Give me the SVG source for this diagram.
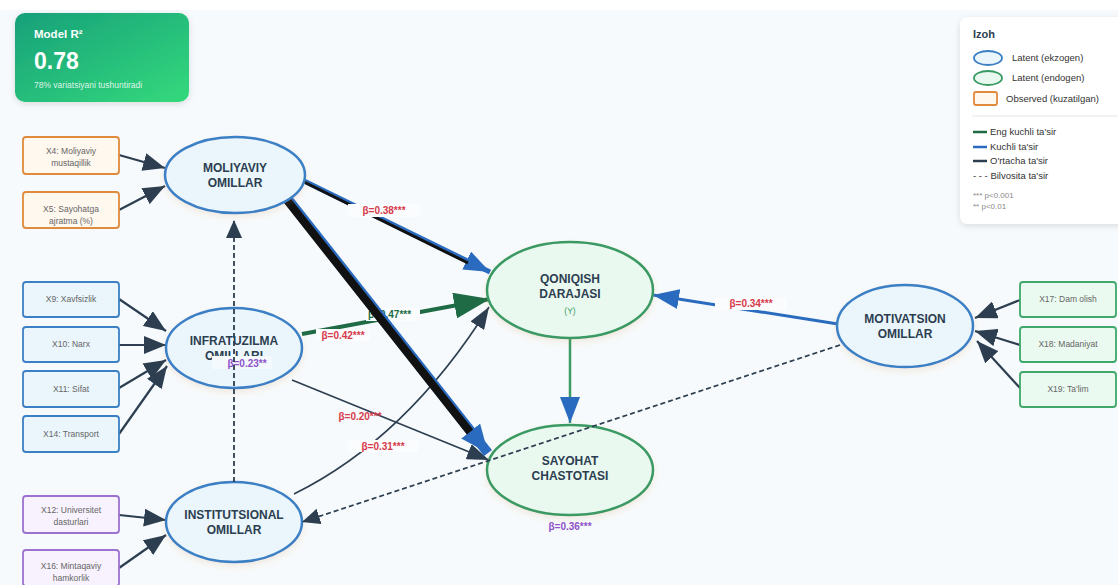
<svg xmlns="http://www.w3.org/2000/svg" width="1118" height="585" viewBox="0 0 1118 585">
<defs>
<linearGradient id="gR" x1="0" y1="0" x2="1" y2="1">
<stop offset="0" stop-color="#17a07a"/><stop offset="1" stop-color="#34d97b"/>
</linearGradient>
<filter id="sh" x="-20%" y="-20%" width="140%" height="140%"><feDropShadow dx="0" dy="2" stdDeviation="3" flood-color="#000" flood-opacity="0.12"/></filter>
<filter id="shn" x="-20%" y="-20%" width="140%" height="150%"><feDropShadow dx="0" dy="3" stdDeviation="3" flood-color="#c98a3c" flood-opacity="0.15"/></filter>
<marker id="aDark" markerUnits="userSpaceOnUse" markerWidth="22" markerHeight="18" refX="22" refY="9" orient="auto"><path d="M0,0 L22,9 L0,18 z" fill="#2c3e50"/></marker>
<marker id="aDark2" markerUnits="userSpaceOnUse" markerWidth="22" markerHeight="16" refX="22" refY="8" orient="auto"><path d="M0,0 L22,8 L0,16 z" fill="#2c3e50"/></marker>
<marker id="aBlue" markerUnits="userSpaceOnUse" markerWidth="26" markerHeight="20" refX="26" refY="10" orient="auto"><path d="M0,0 L26,10 L0,20 z" fill="#2a6bbf"/></marker>
<marker id="aBlueBig" markerUnits="userSpaceOnUse" markerWidth="28" markerHeight="24" refX="28" refY="12" orient="auto"><path d="M0,0 L28,12 L0,24 z" fill="#2a6bbf"/></marker>
<marker id="aGreen" markerUnits="userSpaceOnUse" markerWidth="36" markerHeight="26" refX="36" refY="13" orient="auto"><path d="M0,0 L36,13 L0,26 z" fill="#1e6b45"/></marker>
<marker id="aDash" markerUnits="userSpaceOnUse" markerWidth="18" markerHeight="16" refX="18" refY="8" orient="auto"><path d="M0,0 L18,8 L0,16 z" fill="#2c3e50"/></marker>
</defs>
<style>
text{font-family:"Liberation Sans",Arial,sans-serif}
.lat{fill:#eaf5fc;stroke:#3b7fc4;stroke-width:2.5}
.end{fill:#eaf9f0;stroke:#3a9a63;stroke-width:2.5}
.nt{font-size:12px;font-weight:bold;fill:#2c3e50;text-anchor:middle}
.ob{fill:#fff8ee;stroke:#e08a3c;stroke-width:1.8}
.ib{fill:#eaf5fc;stroke:#3b7fc4;stroke-width:1.8}
.pb{fill:#f7f2fd;stroke:#9b72cf;stroke-width:1.8}
.gb{fill:#eafaf0;stroke:#3fa86a;stroke-width:1.8}
.ot{font-size:8.5px;fill:#666;text-anchor:middle}
.mea{stroke:#2c3e50;stroke-width:2.2;fill:none;marker-end:url(#aDark)}
.red{font-size:10px;font-weight:bold;fill:#d63a4a;text-anchor:middle}
.pur{font-size:10px;font-weight:bold;fill:#8e52c9;text-anchor:middle}
.lg{font-size:9.5px;fill:#333}
.bg{fill:#fafcfd}
.dash{stroke:#2c3e50;stroke-width:1.8;stroke-dasharray:5,3;fill:none}
</style>
<rect width="1118" height="585" fill="#f7fafc"/>
<rect width="1118" height="10" fill="#ffffff"/>

<g id="r2box">
<rect x="15" y="13" width="174" height="89" rx="10" fill="url(#gR)" filter="url(#sh)"/>
<text x="34" y="38" font-size="11.5" font-weight="bold" fill="#fff">Model R²</text>
<text x="34" y="69" font-size="23" font-weight="bold" fill="#fff">0.78</text>
<text x="34" y="88" font-size="8.5" fill="#fff" fill-opacity="0.85">78% variatsiyani tushuntiradi</text>
</g>

<g id="legend">
<rect x="960" y="17" width="170" height="207" rx="8" fill="#fff" filter="url(#sh)"/>
<text x="973" y="38" font-size="11" font-weight="bold" fill="#2c3e50">Izoh</text>
<ellipse cx="988" cy="58" rx="14" ry="7" fill="#eaf5fc" stroke="#3b7fc4" stroke-width="1.8"/>
<text x="1012" y="61" class="lg">Latent (ekzogen)</text>
<ellipse cx="988" cy="78" rx="14" ry="7" fill="#eaf9f0" stroke="#3a9a63" stroke-width="1.8"/>
<text x="1012" y="81" class="lg">Latent (endogen)</text>
<rect x="974" y="92" width="23" height="13" rx="2" fill="#fff8ee" stroke="#e08a3c" stroke-width="1.8"/>
<text x="1006" y="102" class="lg">Observed (kuzatilgan)</text>
<line x1="972" y1="116" x2="1118" y2="116" stroke="#e6e6e6"/>
<line x1="973" y1="132" x2="987" y2="132" stroke="#1e6b45" stroke-width="2.5"/>
<text x="990" y="135" class="lg">Eng kuchli ta'sir</text>
<line x1="973" y1="147" x2="987" y2="147" stroke="#2a6bbf" stroke-width="2.5"/>
<text x="990" y="150" class="lg">Kuchli ta'sir</text>
<line x1="973" y1="161" x2="987" y2="161" stroke="#2c3e50" stroke-width="2.5"/>
<text x="990" y="164" class="lg">O'rtacha ta'sir</text>
<text x="973" y="179" class="lg">- - - Bilvosita ta'sir</text>
<text x="973" y="198" font-size="8" fill="#888">*** p&lt;0.001</text>
<text x="973" y="209" font-size="8" fill="#888">** p&lt;0.01</text>
</g>

<g id="connectors">
<line class="mea" x1="119" y1="155" x2="165" y2="168"/>
<line class="mea" x1="119" y1="210" x2="165" y2="186"/>
<line class="mea" x1="119" y1="299" x2="166" y2="331"/>
<line class="mea" x1="119" y1="345" x2="166" y2="345"/>
<line class="mea" x1="119" y1="388" x2="166" y2="360"/>
<line class="mea" x1="119" y1="434" x2="167" y2="366"/>
<line class="mea" x1="119" y1="515" x2="166" y2="520"/>
<line class="mea" x1="119" y1="568" x2="166" y2="535"/>
<line class="mea" x1="1020" y1="300" x2="975" y2="318"/>
<line class="mea" x1="1020" y1="345" x2="975" y2="331"/>
<line class="mea" x1="1020" y1="388" x2="977" y2="341"/>

<line x1="838" y1="324" x2="653" y2="295" stroke="#2a6bbf" stroke-width="3" marker-end="url(#aBlue)"/>
<line x1="570" y1="339" x2="570" y2="423" stroke="#3a9a63" stroke-width="2.5" marker-end="url(#aBlue)"/>
<line x1="292" y1="380" x2="489" y2="460" stroke="#2c3e50" stroke-width="1.6" marker-end="url(#aDark2)"/>
<path d="M294,494 Q407,438 489,307" fill="none" stroke="#2c3e50" stroke-width="1.6" marker-end="url(#aDark2)"/>
<line x1="302" y1="334" x2="490" y2="299" stroke="#1e6b45" stroke-width="4" marker-end="url(#aGreen)"/>
<rect x="366" y="308" width="54" height="13" class="bg"/>
<text x="368" y="318" font-size="10" font-weight="bold" fill="#1e6b45">β=0.47***</text>
<line x1="302" y1="180" x2="490" y2="272" stroke="#2a6bbf" stroke-width="5" marker-end="url(#aBlue)"/>
<line x1="302" y1="181" x2="468" y2="263" stroke="#111" stroke-width="3"/>
<line x1="287" y1="198" x2="488" y2="453" stroke="#2a6bbf" stroke-width="10" marker-end="url(#aBlueBig)"/>
<line x1="286" y1="199" x2="470" y2="432" stroke="#111" stroke-width="8"/>
</g>

<g id="n-moliyaviy">
<ellipse cx="235" cy="175" rx="70" ry="38" class="lat" filter="url(#shn)"/>
<text x="235" y="172" class="nt">MOLIYAVIY</text>
<text x="235" y="187" class="nt">OMILLAR</text>
</g>
<g id="n-infra">
<ellipse cx="234" cy="348" rx="68" ry="40" class="lat" filter="url(#shn)"/>
<text x="234" y="345" class="nt">INFRATUZILMA</text>
<text x="234" y="360" class="nt">OMILLARI</text>
</g>
<g id="n-inst">
<ellipse cx="234" cy="522" rx="68" ry="40" class="lat" filter="url(#shn)"/>
<text x="234" y="519" class="nt">INSTITUTSIONAL</text>
<text x="234" y="534" class="nt">OMILLAR</text>
</g>
<g id="n-qoniqish">
<ellipse cx="570" cy="290" rx="83" ry="48" class="end" filter="url(#shn)"/>
<text x="570" y="283" class="nt">QONIQISH</text>
<text x="570" y="298" class="nt">DARAJASI</text>
<text x="570" y="314" font-size="8.5" fill="#3a9a63" text-anchor="middle">(Y)</text>
</g>
<g id="n-sayohat">
<ellipse cx="570" cy="470" rx="83" ry="45" class="end" filter="url(#shn)"/>
<text x="570" y="465" class="nt">SAYOHAT</text>
<text x="570" y="480" class="nt">CHASTOTASI</text>
</g>
<g id="n-motiv">
<ellipse cx="905" cy="326" rx="68" ry="41" class="lat" filter="url(#shn)"/>
<text x="905" y="323" class="nt">MOTIVATSION</text>
<text x="905" y="338" class="nt">OMILLAR</text>
</g>

<g id="o-x4"><rect x="23" y="137" width="96" height="37" rx="3" class="ob"/><text x="71" y="154" class="ot">X4: Moliyaviy</text><text x="71" y="166" class="ot">mustaqillik</text></g>
<g id="o-x5"><rect x="23" y="192" width="96" height="36" rx="3" class="ob"/><text x="71" y="212" class="ot">X5: Sayohatga</text><text x="71" y="224" class="ot">ajratma (%)</text></g>
<g id="o-x9"><rect x="23" y="282" width="96" height="35" rx="3" class="ib"/><text x="71" y="302" class="ot">X9: Xavfsizlik</text></g>
<g id="o-x10"><rect x="23" y="327" width="96" height="35" rx="3" class="ib"/><text x="71" y="347" class="ot">X10: Narx</text></g>
<g id="o-x11"><rect x="23" y="371" width="96" height="36" rx="3" class="ib"/><text x="71" y="392" class="ot">X11: Sifat</text></g>
<g id="o-x14"><rect x="23" y="416" width="96" height="36" rx="3" class="ib"/><text x="71" y="437" class="ot">X14: Transport</text></g>
<g id="o-x12"><rect x="23" y="496" width="96" height="37" rx="3" class="pb"/><text x="71" y="513" class="ot">X12: Universitet</text><text x="71" y="525" class="ot">dasturlari</text></g>
<g id="o-x16"><rect x="23" y="550" width="96" height="36" rx="3" class="pb"/><text x="71" y="569" class="ot">X16: Mintaqaviy</text><text x="71" y="581" class="ot">hamkorlik</text></g>
<g id="o-x17"><rect x="1020" y="282" width="96" height="35" rx="3" class="gb"/><text x="1068" y="302" class="ot">X17: Dam olish</text></g>
<g id="o-x18"><rect x="1020" y="327" width="96" height="35" rx="3" class="gb"/><text x="1068" y="347" class="ot">X18: Madaniyat</text></g>
<g id="o-x19"><rect x="1020" y="372" width="96" height="35" rx="3" class="gb"/><text x="1068" y="392" class="ot">X19: Ta'lim</text></g>

<g id="labels">
<rect x="348" y="204" width="72" height="13" class="bg"/>
<text x="384" y="214" class="red">β=0.38***</text>
<rect x="316" y="329" width="54" height="12" class="bg"/>
<text x="343" y="339" class="red">β=0.42***</text>
<text x="360" y="420" class="red">β=0.20***</text>
<rect x="348" y="440" width="70" height="12" class="bg"/>
<text x="383" y="450" class="red">β=0.31***</text>
<rect x="715" y="298" width="72" height="12" class="bg"/>
<text x="751" y="307" class="red">β=0.34***</text>
<rect x="212" y="356" width="60" height="13" fill="#f4f9fd"/>
<text x="247" y="367" class="pur">β=0.23**</text>
<text x="570" y="530" class="pur">β=0.36***</text>
</g>

<g id="dashed-connectors">
<line x1="840" y1="345" x2="302" y2="522" class="dash" marker-end="url(#aDash)"/>
<line x1="234" y1="482" x2="234" y2="220" class="dash" marker-end="url(#aDash)"/>
</g>
</svg>
